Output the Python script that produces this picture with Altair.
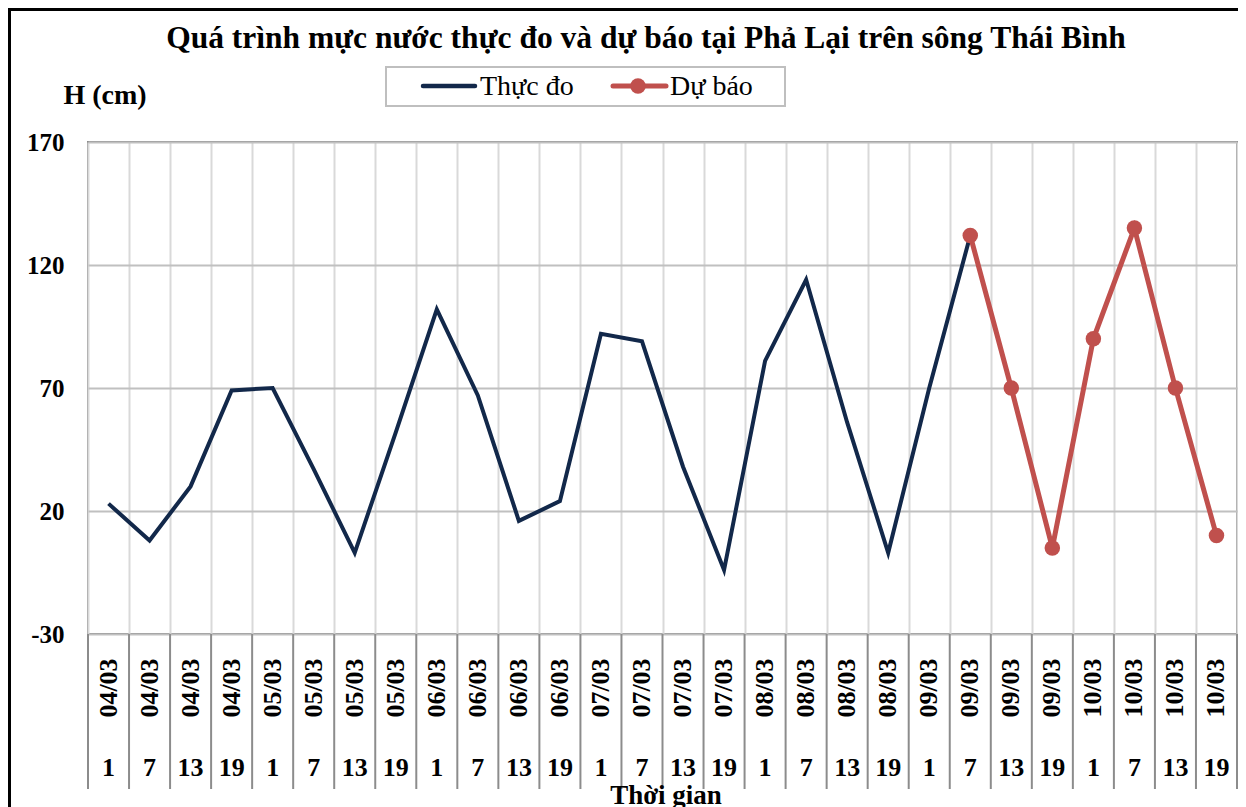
import altair as alt
import pandas as pd

# ---------------- data ----------------
title_text = "Quá trình mực nước thực đo và dự báo tại Phả Lại trên sông Thái Bình"
y_title = "H (cm)"
x_title = "Thời gian"
series_names = ["Thực đo", "Dự báo"]
series_colors = ["#12284a", "#c0504d"]

dates = ["04/03"] * 4 + ["05/03"] * 4 + ["06/03"] * 4 + ["07/03"] * 4 + \
        ["08/03"] * 4 + ["09/03"] * 4 + ["10/03"] * 4
hours = ["1", "7", "13", "19"] * 7

observed = [23, 8, 30, 69, 70, 37, 3, 52, 102, 67, 16, 24, 92, 89, 38, -4,
            81, 114, 56, 3, 70, 132]
forecast_start = 21
forecast = [132, 70, 5, 90, 135, 70, 10]

y_ticks = [-30, 20, 70, 120, 170]

# ---------------- layout ----------------
W, H = 1149, 492
FONT = "Liberation Serif"
n = len(dates)

cat_df = pd.DataFrame({"idx": list(range(n)), "date": dates, "hour": hours})
obs_df = pd.DataFrame({"idx": list(range(len(observed))), "value": observed})
fc_df = pd.DataFrame({"idx": list(range(forecast_start, forecast_start + len(forecast))),
                      "value": forecast})
bounds = [i - 0.5 for i in range(n + 1)]
bounds_df = pd.DataFrame({"b": bounds})

x_scale = alt.Scale(domain=[-0.5, n - 0.5], nice=False, zero=False)
x_axis = alt.Axis(values=bounds, grid=True, gridColor="#d9d9d9", gridWidth=2,
                  labels=False, ticks=False, domain=False, title=None)
y_scale = alt.Scale(domain=[-30, 170], nice=False, zero=False)
y_axis = alt.Axis(values=y_ticks, grid=True, gridColor="#c0c0c0", gridWidth=2,
                  ticks=False, domain=False, title=None, labelFont=FONT,
                  labelFontSize=25, labelFontWeight="bold", labelColor="black",
                  labelPadding=24, labelExpr="'' + datum.value")

x_enc = alt.X("idx:Q", scale=x_scale, axis=x_axis)
x_b = alt.X("b:Q", scale=x_scale, axis=x_axis)

# outer frame
frame = alt.Chart(pd.DataFrame({"k": [0]})).mark_rect(
    fill=None, stroke="black", strokeWidth=3
).encode(x=alt.value(-78.5), x2=alt.value(W + 40), y=alt.value(-132.5), y2=alt.value(H + 220))

# separators under the axis
seps = alt.Chart(bounds_df).mark_rule(color="#8c8c8c", strokeWidth=2).encode(
    x=x_b, y=alt.value(H), y2=alt.value(H + 155)
)

date_text = alt.Chart(cat_df).mark_text(
    angle=270, font=FONT, fontSize=26, fontWeight="bold", align="center",
    baseline="middle", color="black"
).encode(x=x_enc, y=alt.value(546), text="date:N")

hour_text = alt.Chart(cat_df).mark_text(
    font=FONT, fontSize=26, fontWeight="bold", align="center",
    baseline="middle", color="black"
).encode(x=x_enc, y=alt.value(626), text="hour:N")

obs_line = alt.Chart(obs_df).mark_line(color=series_colors[0], strokeWidth=4).encode(
    x=x_enc, y=alt.Y("value:Q", scale=y_scale, axis=y_axis)
)
fc_line = alt.Chart(fc_df).mark_line(color=series_colors[1], strokeWidth=5).encode(
    x=x_enc, y=alt.Y("value:Q", scale=y_scale, axis=y_axis)
)
fc_pts = alt.Chart(fc_df).mark_point(
    filled=True, color=series_colors[1], size=240, opacity=1
).encode(x=x_enc, y=alt.Y("value:Q", scale=y_scale, axis=y_axis))

# legend (manual)
one = pd.DataFrame({"k": [0]})
leg_box = alt.Chart(one).mark_rect(fill="white", stroke="#bfbfbf", strokeWidth=2).encode(
    x=alt.value(298), x2=alt.value(697), y=alt.value(-75), y2=alt.value(-36)
)
leg_df = pd.DataFrame({"name": series_names})
leg_l1 = alt.Chart(leg_df.iloc[[0]]).mark_rule(
    color=series_colors[0], strokeWidth=4.5, strokeCap="round"
).encode(x=alt.value(335), x2=alt.value(387), y=alt.value(-56))
leg_t1 = alt.Chart(leg_df.iloc[[0]]).mark_text(
    font=FONT, fontSize=28, align="left", baseline="middle", color="black"
).encode(x=alt.value(392), y=alt.value(-55), text="name:N")
leg_l2 = alt.Chart(leg_df.iloc[[1]]).mark_rule(
    color=series_colors[1], strokeWidth=5, strokeCap="round"
).encode(x=alt.value(525), x2=alt.value(578), y=alt.value(-56))
leg_p2 = alt.Chart(leg_df.iloc[[1]]).mark_point(
    filled=True, color=series_colors[1], size=240, opacity=1
).encode(x=alt.value(550), y=alt.value(-56))
leg_t2 = alt.Chart(leg_df.iloc[[1]]).mark_text(
    font=FONT, fontSize=28, align="left", baseline="middle", color="black"
).encode(x=alt.value(582), y=alt.value(-55), text="name:N")

txt_df = pd.DataFrame({"t": [title_text], "yt": [y_title], "xt": [x_title]})
title_mark = alt.Chart(txt_df).mark_text(
    font=FONT, fontSize=31.5, fontWeight="bold", align="center", baseline="middle", color="black"
).encode(x=alt.value(558), y=alt.value(-103), text="t:N")
ytitle_mark = alt.Chart(txt_df).mark_text(
    font=FONT, fontSize=28, fontWeight="bold", align="center", baseline="middle", color="black"
).encode(x=alt.value(17), y=alt.value(-46), text="yt:N")
xtitle_mark = alt.Chart(txt_df).mark_text(
    font=FONT, fontSize=27, fontWeight="bold", align="center", baseline="alphabetic", color="black"
).encode(x=alt.value(578), y=alt.value(662), text="xt:N")

chart = alt.layer(
    frame, seps, date_text, hour_text, obs_line, fc_line, fc_pts,
    leg_box, leg_l1, leg_t1, leg_l2, leg_p2, leg_t2,
    title_mark, ytitle_mark, xtitle_mark
).properties(
    width=W, height=H,
    autosize=alt.AutoSizeParams(type="none"),
    padding={"left": 80, "top": 134, "right": 1, "bottom": 173},
    background="white",
).configure_view(stroke="#8c8c8c", strokeWidth=2)

chart.save("out.html", embed_options={"renderer": "svg", "actions": False})
